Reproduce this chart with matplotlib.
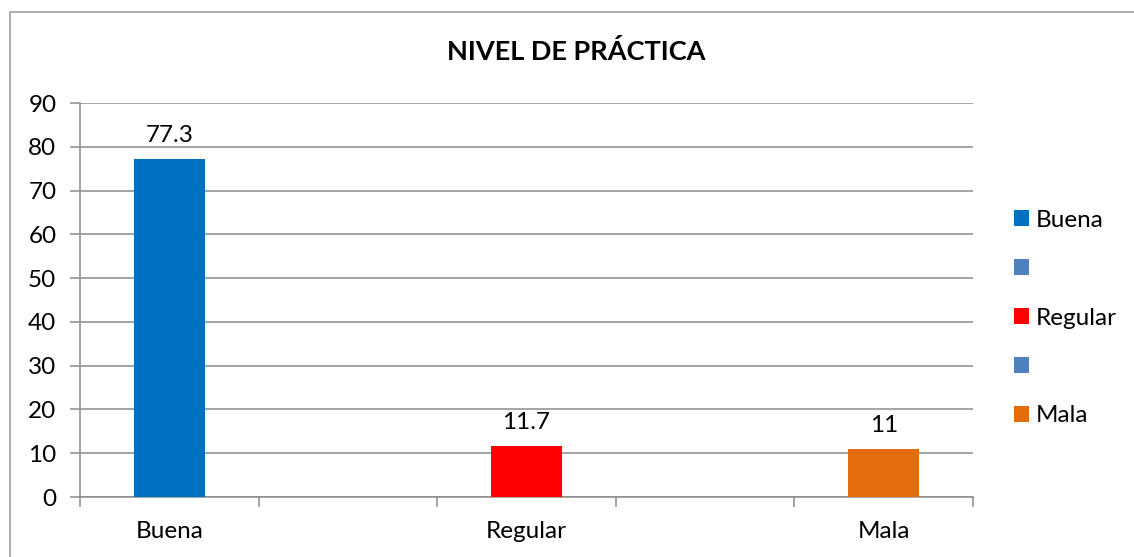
"""
Bar chart: nivel de practica
"""
import matplotlib
matplotlib.use("Agg")
import matplotlib.pyplot as plt
from matplotlib.patches import Patch, Rectangle

categories = ["Buena", "", "Regular", "", "Mala"]
values = [77.3, None, 11.7, None, 11]
value_labels = ["77.3", "", "11.7", "", "11"]
colors = ["#0070C0", "#4F81BD", "#FF0000", "#4F81BD", "#E46C0A"]
y_ticks = [0, 10, 20, 30, 40, 50, 60, 70, 80, 90]

plt.rcParams["font.family"] = ["Lato", "DejaVu Sans"]

fig = plt.figure(figsize=(11.34, 5.57), dpi=100)
ax = fig.add_axes([80 / 1134, 1 - 497 / 557, 893 / 1134, 394 / 557])

grid_color = "#8C8C8C"
fs = 17.5

for i, (v, c, lab) in enumerate(zip(values, colors, value_labels)):
    if v is None:
        continue
    ax.bar(i, v, width=0.4, color=c, zorder=3)
    ax.annotate(lab, (i, v), xytext=(0, 9), textcoords="offset points",
                ha="center", va="bottom", fontsize=fs)

ax.set_xlim(-0.5, len(categories) - 0.5)
ax.set_ylim(0, 90)
ax.set_yticks(y_ticks)
ax.set_yticklabels([str(t) for t in y_ticks], fontsize=fs)
ax.yaxis.grid(True, color=grid_color, linewidth=1.1, zorder=0)

# category labels between boundary ticks
ax.set_xticks([i - 0.5 for i in range(len(categories) + 1)])
ax.set_xticklabels([])
ax.set_xticks(range(len(categories)), minor=True)
ax.set_xticklabels(categories, minor=True, fontsize=fs)
ax.tick_params(axis="x", which="major", length=7, width=1.1, color=grid_color)
ax.tick_params(axis="x", which="minor", length=0, pad=17)
ax.tick_params(axis="y", length=7, width=1.1, color=grid_color, pad=10)

for side in ["top", "right"]:
    ax.spines[side].set_visible(False)
for side in ["left", "bottom"]:
    ax.spines[side].set_color(grid_color)
    ax.spines[side].set_linewidth(1.1)

fig.text(576 / 1134, 1 - 52 / 557, "NIVEL DE PRÁCTICA", ha="center",
         va="center", fontsize=19.5, fontweight="bold")

handles = [Patch(facecolor=c) for c in colors]
fig.legend(handles, categories, loc="center left",
           bbox_to_anchor=(992 / 1134, 1 - 318 / 557), frameon=False,
           fontsize=fs, handlelength=0.62, handleheight=0.62,
           handletextpad=0.3, labelspacing=1.15)

# chart border
fig.patches.append(Rectangle((10 / 1134, -0.1), 1.2, 1 - 12 / 557 + 0.1,
                             transform=fig.transFigure, fill=False,
                             edgecolor="#A0A0A0", linewidth=1.2))

fig.savefig("out.png", dpi=100)
